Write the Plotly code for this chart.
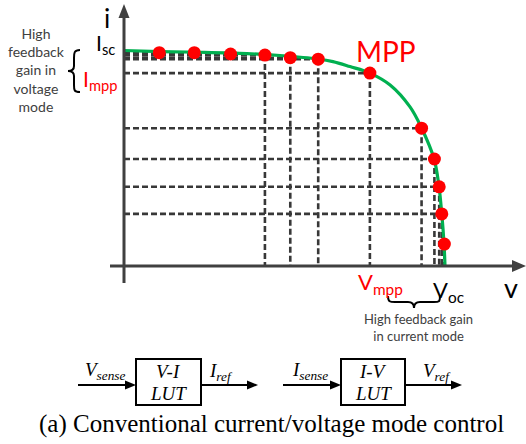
import plotly.graph_objects as go

W, H = 526, 444

# PV I-V characteristic, voltage and current normalised to Voc and Isc
curve_v = [0.0, 0.112, 0.237, 0.383, 0.486, 0.604, 0.651, 0.704, 0.766, 0.829,
           0.891, 0.927, 0.966, 0.981, 0.990, 0.997, 1.0]
curve_i = [0.993, 0.988, 0.985, 0.979, 0.970, 0.954, 0.942, 0.919, 0.889, 0.834,
           0.733, 0.636, 0.493, 0.369, 0.240, 0.101, 0.0]

# LUT operating points on the curve (MPP is index 6)
pt_v = [0.110, 0.219, 0.332, 0.439, 0.518, 0.605, 0.766, 0.927, 0.967, 0.982, 0.990, 0.998]
pt_i = [0.983, 0.983, 0.977, 0.972, 0.960, 0.953, 0.889, 0.635, 0.493, 0.365, 0.240, 0.101]
# which points get a projection onto the current axis / voltage axis
h_proj = [True] * 11 + [False]
v_proj = [False] * 3 + [True] * 9

# pixel frame of the v-i axes
X0, X1 = 124, 445      # v = 0 .. 1
Y0, Y1 = 266, 49       # i = 0 .. 1
sx = (X1 - X0)
sy = (Y0 - Y1)
x_range = [(0 - X0) / sx, (W - X0) / sx]
y_range = [(Y0 - H) / sy, (Y0 - 0) / sy]


def px(x):
    return x / W


def py(y):
    return 1 - y / H


fig = go.Figure()

# dashed projections
dx, dy = [], []
for v, i, h, vv in zip(pt_v, pt_i, h_proj, v_proj):
    if h:
        dx += [0, v, None]
        dy += [i, i, None]
    if vv:
        dx += [v, v, None]
        dy += [i, 0, None]
fig.add_trace(go.Scatter(x=dx, y=dy, mode="lines",
                         line=dict(color="#383838", width=2.6, dash="6px,3px"),
                         hoverinfo="skip"))

fig.add_trace(go.Scatter(x=curve_v, y=curve_i, mode="lines",
                         line=dict(color="#00b050", width=3.2, shape="spline", smoothing=1.0),
                         hoverinfo="skip"))

fig.add_trace(go.Scatter(x=pt_v, y=pt_i, mode="markers",
                         marker=dict(color="#ff0000", size=13, line=dict(width=0)),
                         hoverinfo="skip"))

shapes = []
axc = "#404040"
# axes with arrowheads
shapes.append(dict(type="line", xref="paper", yref="paper", x0=px(124), x1=px(124),
                   y0=py(283), y1=py(16), line=dict(color=axc, width=3)))
shapes.append(dict(type="path", xref="paper", yref="paper",
                   path=f"M{px(124)},{py(4)} L{px(118.5)},{py(18)} L{px(129.5)},{py(18)} Z",
                   fillcolor=axc, line=dict(width=0)))
shapes.append(dict(type="line", xref="paper", yref="paper", x0=px(110), x1=px(514),
                   y0=py(266), y1=py(266), line=dict(color=axc, width=3)))
shapes.append(dict(type="path", xref="paper", yref="paper",
                   path=f"M{px(526)},{py(266)} L{px(512)},{py(260)} L{px(512)},{py(272)} Z",
                   fillcolor=axc, line=dict(width=0)))

# left curly brace
lb = (f"M{px(80)},{py(50)} C{px(74)},{py(50)} {px(74)},{py(53)} {px(74)},{py(58)} "
      f"L{px(74)},{py(66)} C{px(74)},{py(69)} {px(72)},{py(71)} {px(68)},{py(71)} "
      f"C{px(72)},{py(71)} {px(74)},{py(73)} {px(74)},{py(76)} "
      f"L{px(74)},{py(85)} C{px(74)},{py(90)} {px(74)},{py(92)} {px(80)},{py(92)}")
shapes.append(dict(type="path", xref="paper", yref="paper", path=lb,
                   line=dict(color="black", width=2)))
# bottom curly brace
bb = (f"M{px(388)},{py(296)} C{px(388)},{py(302)} {px(390)},{py(302)} {px(395)},{py(302)} "
      f"L{px(408)},{py(302)} C{px(412)},{py(302)} {px(414)},{py(304)} {px(414)},{py(308)} "
      f"C{px(414)},{py(304)} {px(416)},{py(302)} {px(420)},{py(302)} "
      f"L{px(434)},{py(302)} C{px(439)},{py(302)} {px(440)},{py(302)} {px(440)},{py(296)}")
shapes.append(dict(type="path", xref="paper", yref="paper", path=bb,
                   line=dict(color="black", width=2)))


# block diagram: arrows and LUT boxes
def arrow(x0, x1, y):
    shapes.append(dict(type="line", xref="paper", yref="paper", x0=px(x0), x1=px(x1 - 8),
                       y0=py(y), y1=py(y), line=dict(color="black", width=2)))
    shapes.append(dict(type="path", xref="paper", yref="paper",
                       path=f"M{px(x1)},{py(y)} L{px(x1 - 11)},{py(y - 4.5)} L{px(x1 - 11)},{py(y + 4.5)} Z",
                       fillcolor="black", line=dict(width=0)))


def box(x0, x1, y0, y1):
    shapes.append(dict(type="rect", xref="paper", yref="paper", x0=px(x0), x1=px(x1),
                       y0=py(y1), y1=py(y0), line=dict(color="black", width=2),
                       fillcolor="white"))


arrow(78, 136, 385)
box(136, 201, 359, 405)
arrow(201, 258, 385)
arrow(283, 341, 385)
box(341, 405, 359, 405)
arrow(405, 462, 385)

ann = []
sans = "Lato"
serif = "Liberation Serif"


def text(x, y, s, size, color="black", font=sans, xa="center", ya="middle"):
    ann.append(dict(x=px(x), y=py(y), xref="paper", yref="paper", text=s, showarrow=False,
                    xanchor=xa, yanchor=ya, font=dict(family=font, size=size, color=color)))


text(106.5, 18, "i", 26)
text(511, 287, "v", 27)
text(94, 44, "I<sub>sc</sub>", 21, xa="left")
text(81, 80, "I<sub>mpp</sub>", 21, color="#ff0000", xa="left")
text(386, 51, "MPP", 28, color="#ff0000")
text(356, 283, "V<sub>mpp</sub>", 22, color="#ff0000", xa="left")
text(431, 291, "V<sub>oc</sub>", 22, xa="left")
text(36, 70, "High<br>feedback<br>gain in<br>voltage<br>mode", 14, color="#404040")
text(418, 327, "High feedback gain<br>in current mode", 13, color="#404040")

text(105, 371, "<i>V<sub>sense</sub></i>", 19, font=serif)
text(168.5, 371, "<i>V-I</i>", 19, font=serif)
text(168.5, 393, "<i>LUT</i>", 19, font=serif)
text(221, 372, "<i>I<sub>ref</sub></i>", 19, font=serif)
text(310, 371, "<i>I<sub>sense</sub></i>", 19, font=serif)
text(373, 371, "<i>I-V</i>", 19, font=serif)
text(373, 393, "<i>LUT</i>", 19, font=serif)
text(437, 372, "<i>V<sub>ref</sub></i>", 19, font=serif)
text(271, 424, "(a) Conventional current/voltage mode control", 25, font=serif)

fig.update_layout(
    width=W, height=H, margin=dict(l=0, r=0, t=0, b=0),
    paper_bgcolor="white", plot_bgcolor="white", showlegend=False,
    xaxis=dict(range=x_range, visible=False, fixedrange=True),
    yaxis=dict(range=y_range, visible=False, fixedrange=True),
    shapes=shapes, annotations=ann,
)

fig.write_html("out.html")
